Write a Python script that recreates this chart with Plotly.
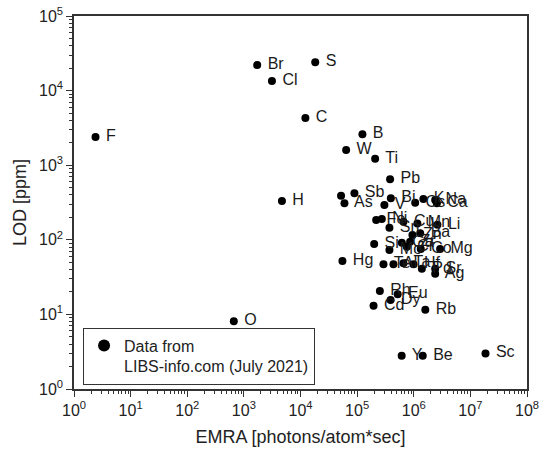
import plotly.graph_objects as go

# element symbols, emission rate (EMRA) and limit of detection (LOD)
elements = ['F', 'O', 'Br', 'Cl', 'H', 'C', 'S', 'Hg', 'W', 'B', 'Ti', 'Pb',
            'Se', 'Sb', 'As', 'Bi', 'V', 'K', 'Na', 'Cs', 'Ca',
            'Fe', 'Ni', 'Sn', 'Cu', 'Mn', 'Li', 'Zn', 'Ba',
            'Si', 'Ga', 'Zr', 'Cr', 'Mo', 'Co', 'Mg',
            'Te', 'Al', 'Ta', 'Hf', 'Pd', 'Sr', 'Ag',
            'Rh', 'Eu', 'Dy', 'Cd', 'Rb', 'Y', 'Be', 'Sc']
labels = ['F', 'O', 'Br', 'Cl', 'H', 'C', 'S', 'Hg', 'W', 'B', 'Ti', 'Pb',
          '', 'Sb', 'As', 'Bi', 'V', 'K', 'Na', 'Cs', 'Ca',
          'Fe', 'Ni', 'Sn', 'Cu', 'Mn', 'Li', 'Zn', 'Ba',
          'Si', 'Ga', 'Zr', 'Cr', 'Mo', 'Co', 'Mg',
          'Te', 'Al', 'Ta', 'Hf', 'Pd', 'Sr', 'Ag',
          'Rh', 'Eu', 'Dy', 'Cd', 'Rb', 'Y', 'Be', 'Sc']
emra = [2.4, 664, 1720, 3130, 4700, 12200, 18200, 55000, 64000, 124000, 208000, 382000,
        52000, 89600, 59700, 394000, 303000, 1.48e6, 2.39e6, 1.06e6, 2.56e6,
        217000, 273000, 372000, 658000, 1.16e6, 2.62e6, 948000, 1.3e6,
        200000, 616000, 863000, 755000, 372000, 1.33e6, 2.92e6,
        292000, 438000, 658000, 988000, 1.39e6, 2.39e6, 2.39e6,
        252000, 520000, 390000, 195000, 1.6e6, 612000, 1.44e6, 1.85e7]
lod = [2390, 8.1, 22000, 13500, 331, 4290, 23900, 52, 1600, 2600, 1220, 647,
       390, 420, 308, 360, 293, 352, 341, 314, 308,
       184, 190, 145, 175, 166, 159, 116, 122,
       88, 91, 94, 81, 73, 75, 75,
       47, 47, 48.4, 47, 41, 41, 35,
       20.6, 18.6, 15.6, 13.1, 11.5, 2.8, 2.8, 3.0]

x_ticks = [10 ** i for i in range(0, 9)]
y_ticks = [10 ** i for i in range(0, 6)]

FONT = 'Liberation Sans, Arial, sans-serif'

fig = go.Figure()
fig.add_trace(go.Scatter(
    x=emra, y=lod, mode='markers+text', text=[' ' + t if t else '' for t in labels],
    textposition='middle right', textfont=dict(size=16, color='#1a1a1a', family=FONT),
    marker=dict(size=8, color='black'),
    name='Data from<br>LIBS-info.com (July 2021)', showlegend=True,
    hovertext=elements, hoverinfo='text+x+y'
))

axis_common = dict(
    type='log', showline=True, linecolor='#333', linewidth=1.5, mirror=True,
    ticks='outside', ticklen=6, tickwidth=1.2, tickcolor='#333',
    showgrid=False, zeroline=False, automargin=False, ticklabeloverflow='allow',
    tickfont=dict(size=16, color='#222', family=FONT),
    minor=dict(ticks='outside', ticklen=3, tickcolor='#333', dtick='D1', showgrid=False),
)

fig.update_xaxes(
    range=[0, 8], tickvals=x_ticks,
    ticktext=[f'10<sup>{i}</sup>' for i in range(0, 9)],
    title=dict(text='EMRA [photons/atom*sec]', font=dict(size=18, color='#222', family=FONT), standoff=12),
    **axis_common
)
fig.update_yaxes(
    range=[0, 5], tickvals=y_ticks,
    ticktext=[f'10<sup>{i}</sup>' for i in range(0, 6)],
    title=dict(text='LOD [ppm]', font=dict(size=18, color='#222', family=FONT), standoff=8),
    **axis_common
)

fig.update_layout(
    width=550, height=459,
    margin=dict(l=74, r=23, t=16, b=70),
    plot_bgcolor='white', paper_bgcolor='white',
    font=dict(family=FONT, color='#222'),
    legend=dict(
        x=0.02, y=0.012, xanchor='left', yanchor='bottom',
        bordercolor='#333', borderwidth=1, bgcolor='white',
        font=dict(size=16, family=FONT, color='#222'), valign='top',
        itemsizing='constant', itemwidth=30
    ),
)

# drop the default body margin so the figure fills the window
fig.write_html('out.html', config={'displayModeBar': False},
               post_script="document.body.style.margin='0';")
